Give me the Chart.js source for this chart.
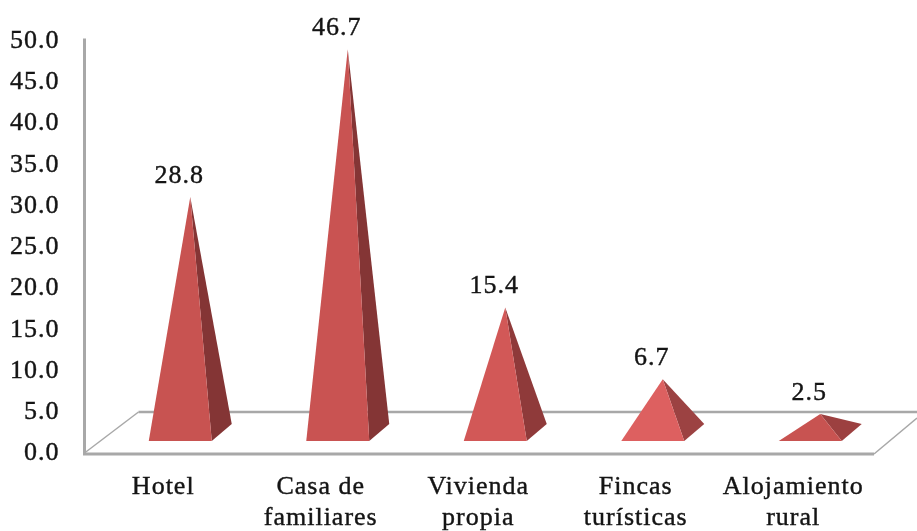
<!DOCTYPE html>
<html><head><meta charset="utf-8">
<style>html,body{margin:0;padding:0;background:#fff}canvas{display:block;filter:blur(0.35px)}</style>
<script src="https://cdn.jsdelivr.net/npm/chart.js@4"></script>
</head><body>
<canvas id="c" width="917" height="531"></canvas>
<script>
const categories = [["Hotel"], ["Casa de", "familiares"], ["Vivienda", "propia"], ["Fincas", "turísticas"], ["Alojamiento", "rural"]];
const values = [28.8, 46.7, 15.4, 6.7, 2.5];
const frontColors = ["#C85351", "#C95352", "#D25857", "#DD6060", "#C85351"];
const sideColors = ["#843535", "#843535", "#8F3A3A", "#9C4242", "#9C4040"];
const fontFamily = '"Liberation Serif", serif';
const axisGray = "#A8A8A8";
const textColor = "#141414";

const scene = {
  id: "scene",
  beforeDraw(chart) { chart.ctx.letterSpacing = "1px"; },
  beforeDatasetsDraw(chart) {
    const { ctx, scales: { x, y } } = chart;
    const L = x.left, B = y.bottom, R = x.right;
    ctx.save();
    ctx.strokeStyle = axisGray;
    ctx.lineWidth = 3;
    ctx.beginPath(); ctx.moveTo(L, y.top - 2); ctx.lineTo(L, B + 1); ctx.lineTo(R + 2, B + 1); ctx.stroke();
    ctx.lineWidth = 2.5;
    ctx.beginPath(); ctx.moveTo(L + 54, B - 41); ctx.lineTo(917, B - 41); ctx.stroke();
    ctx.lineWidth = 1.5;
    ctx.beginPath(); ctx.moveTo(L, B); ctx.lineTo(L + 54, B - 41); ctx.stroke();
    ctx.beginPath(); ctx.moveTo(R + 2, B + 1); ctx.lineTo(917, B - 35); ctx.stroke();
    ctx.restore();
  },
  beforeDatasetDraw(chart, args) {
    const { ctx } = chart;
    const meta = args.meta;
    meta.data.forEach((bar, i) => {
      const w = bar.width, fy = chart.scales.y.bottom - 12;
      const fl = bar.x + 17 - w / 2, fr = fl + w;
      const apexX = fl + w / 2 + 10, apexY = bar.y - 18.5;
      ctx.save();
      ctx.fillStyle = sideColors[i];
      ctx.beginPath(); ctx.moveTo(fr, fy); ctx.lineTo(fr + 20, fy - 17); ctx.lineTo(apexX, apexY); ctx.closePath(); ctx.fill();
      ctx.fillStyle = bar.options.backgroundColor;
      ctx.beginPath(); ctx.moveTo(fl, fy); ctx.lineTo(fr, fy); ctx.lineTo(apexX, apexY); ctx.closePath(); ctx.fill();
      ctx.restore();
    });
    return false;
  },
  afterDatasetsDraw(chart) {
    const { ctx } = chart;
    const meta = chart.getDatasetMeta(0);
    ctx.save();
    ctx.font = "26px " + fontFamily;
    ctx.fillStyle = textColor;
    ctx.strokeStyle = textColor;
    ctx.lineWidth = 0.4;
    ctx.textAlign = "center";
    ctx.textBaseline = "middle";
    meta.data.forEach((bar, i) => {
      const tx = bar.x + 16, ty = bar.y - 39.5;
      ctx.fillText(values[i].toFixed(1), tx, ty);
      ctx.strokeText(values[i].toFixed(1), tx, ty);
    });
    ctx.restore();
  }
};

new Chart(document.getElementById("c"), {
  type: "bar",
  data: {
    labels: categories,
    datasets: [{ data: values, backgroundColor: frontColors, barPercentage: 0.4, categoryPercentage: 1 }]
  },
  plugins: [scene],
  options: {
    responsive: false,
    animation: false,
    layout: { padding: { top: 37, right: 45, left: 0, bottom: 0 } },
    plugins: { legend: { display: false }, tooltip: { enabled: false } },
    scales: {
      x: {
        grid: { display: false, drawTicks: false },
        border: { display: false },
        ticks: { maxRotation: 0, autoSkip: false, padding: 19, color: textColor, textStrokeColor: textColor, textStrokeWidth: 0.4, font: { family: fontFamily, size: 26, lineHeight: 1.18 } },
        afterFit(s) { s.height = 78; }
      },
      y: {
        min: 0, max: 50,
        grid: { display: false, drawTicks: false },
        border: { display: false },
        ticks: { stepSize: 5, padding: 25, labelOffset: 0.5, color: textColor, textStrokeColor: textColor, textStrokeWidth: 0.4, font: { family: fontFamily, size: 26 }, callback: v => v.toFixed(1) },
        afterFit(s) { s.width = 84.5; }
      }
    }
  }
});
</script>
</body></html>
